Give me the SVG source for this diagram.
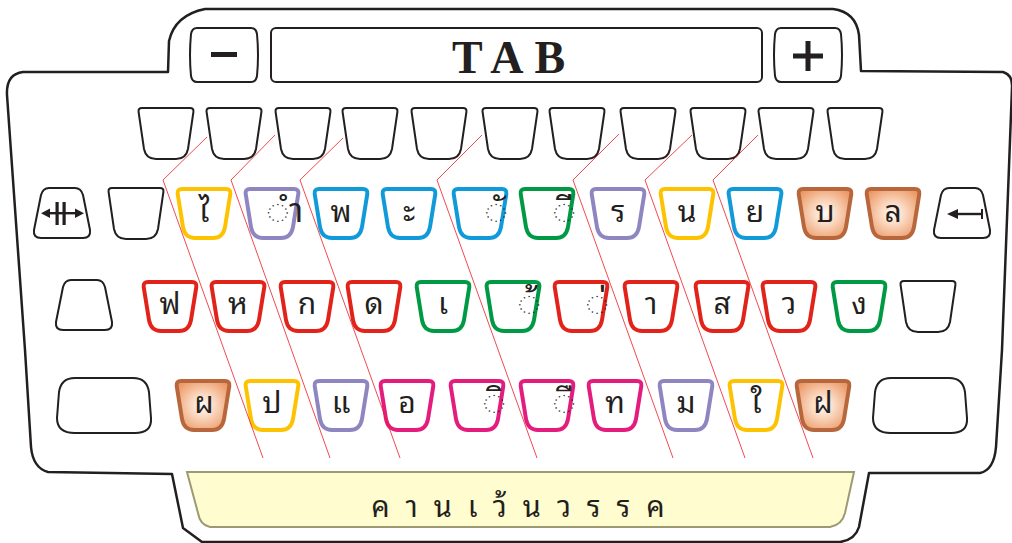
<svg xmlns="http://www.w3.org/2000/svg" xmlns:xlink="http://www.w3.org/1999/xlink" width="1012" height="543" viewBox="0 0 1012 543">
<style>
.bd{fill:#fff;stroke:#231f20;stroke-width:2.5;stroke-linejoin:round}
.kb{fill:#fff;stroke:#231f20;stroke-width:2}
.k{fill:#fff;stroke-width:4}
.y{stroke:#fdc300}.p{stroke:#8e86c1}.b{stroke:#119ad9}.g{stroke:#009944}.r{stroke:#e2231a}.m{stroke:#e31c7e}
.o{stroke:#b8673d;fill:url(#og)}
.t{font-family:"Noto Sans Thai Looped","Noto Serif Thai","Tlwg Typo",Norasi,Kinnari,Loma,Garuda,"Noto Sans Thai","DejaVu Sans",sans-serif;font-size:30px;fill:#231f20;text-anchor:middle}
.dc{font-size:34px}
.tab{font-family:"Liberation Serif",serif;font-size:46px;font-weight:bold;fill:#231f20;text-anchor:middle;letter-spacing:11px}
.rl{fill:none;stroke:#ed1c24;stroke-width:0.8}
.ic{fill:#231f20}
</style>
<defs>
<radialGradient id="og" cx="50%" cy="50%" r="60%">
<stop offset="0" stop-color="#fffaf6"/>
<stop offset="0.35" stop-color="#fbdcc6"/>
<stop offset="1" stop-color="#ec9966"/>
</radialGradient>
<path id="kc" d="M7,2 H51 Q56,2 55.3,7 L50,40 Q48,51 38,51 H20 Q10,51 8,40 L2.7,7 Q2,2 7,2 Z"/>
<path id="kn" d="M5,1 H53 Q57,1 56.4,5 L51,42 Q49,52 39,52 H19 Q9,52 7,42 L1.6,5 Q1,1 5,1 Z"/>
<path id="ki" d="M16,1 H42 Q48,1 50,8 L57,43 Q58,51 50,51 H8 Q0,51 1,43 L8,8 Q10,1 16,1 Z"/>
</defs>

<g id="body">
<path class="bd" d="M23,72 H168 L169,41 Q175,15 205,9 H833 Q856,12 859,35 L861,71 L1003,72 Q1013,75 1012,88 L1002,350 L996,447 Q994,470 980,473 L869,473 L859,527 Q855,540 840,542 H202 L183,528 L172,474 L48,472 Q33,468 31,447 L25,350 L7,95 Q6,74 23,72 Z"/>
</g>

<g id="key-minus">
<path class="kb" d="M197,28 H251 Q256,28 257,34 Q259,55 257,76 Q256,82 251,82 H197 Q192,82 191,76 Q189,55 191,34 Q192,28 197,28 Z"/>
<rect class="ic" x="211" y="52" width="26" height="5"/>
</g>
<g id="key-tab">
<rect class="kb" x="271" y="28" width="491" height="54" rx="5"/>
<text class="tab" x="514" y="73">TAB</text>
</g>
<g id="key-plus">
<path class="kb" d="M781,28 H835 Q840,28 841,34 Q843,55 841,76 Q840,82 835,82 H781 Q776,82 775,76 Q773,55 775,34 Q776,28 781,28 Z"/>
<rect class="ic" x="793" y="53.5" width="30" height="5"/>
<rect class="ic" x="805.5" y="41" width="5" height="30"/>
</g>

<g id="row1">
<g id="k1-1"><use href="#kn" class="kb" x="137" y="107"/></g>
<g id="k1-2"><use href="#kn" class="kb" x="205" y="107"/></g>
<g id="k1-3"><use href="#kn" class="kb" x="274" y="107"/></g>
<g id="k1-4"><use href="#kn" class="kb" x="341" y="107"/></g>
<g id="k1-5"><use href="#kn" class="kb" x="410" y="107"/></g>
<g id="k1-6"><use href="#kn" class="kb" x="481" y="107"/></g>
<g id="k1-7"><use href="#kn" class="kb" x="548" y="107"/></g>
<g id="k1-8"><use href="#kn" class="kb" x="619" y="107"/></g>
<g id="k1-9"><use href="#kn" class="kb" x="689" y="107"/></g>
<g id="k1-10"><use href="#kn" class="kb" x="757" y="107"/></g>
<g id="k1-11"><use href="#kn" class="kb" x="826" y="107"/></g>
</g>

<g id="row2">
<g id="k-tabarrows"><use href="#ki" class="kb" x="33" y="187"/>
<rect class="ic" x="47" y="212" width="31" height="2.4"/>
<path class="ic" d="M41,213.2 L50,208.5 L50,218 Z M84,213.2 L75,208.5 L75,218 Z"/>
<rect class="ic" x="55.5" y="202" width="3.2" height="23"/>
<rect class="ic" x="62.5" y="202" width="3.2" height="23"/>
</g>
<g id="k2-blank"><use href="#kn" class="kb" x="107" y="187"/></g>
<g id="k-sara-ai-malai"><use href="#kc" class="k y" x="175" y="187"/><text class="t" x="204" y="222">ไ</text></g>
<g id="k-sara-am"><use href="#kc" class="k p" x="243" y="187"/><text class="t dc" x="285" y="222">◌ำ</text></g>
<g id="k-pho-phan"><use href="#kc" class="k b" x="312" y="187"/><text class="t" x="341" y="222">พ</text></g>
<g id="k-sara-a"><use href="#kc" class="k b" x="380" y="187"/><text class="t" x="409" y="222">ะ</text></g>
<g id="k-mai-han-akat"><use href="#kc" class="k b" x="451" y="187"/><text class="t dc" x="496" y="222">◌ั</text></g>
<g id="k-sara-ii"><use href="#kc" class="k g" x="518" y="187"/><text class="t dc" x="564" y="222">◌ี</text></g>
<g id="k-ro-rua"><use href="#kc" class="k p" x="589" y="187"/><text class="t" x="618" y="222">ร</text></g>
<g id="k-no-nu"><use href="#kc" class="k y" x="658" y="187"/><text class="t" x="687" y="222">น</text></g>
<g id="k-yo-yak"><use href="#kc" class="k b" x="726" y="187"/><text class="t" x="755" y="222">ย</text></g>
<g id="k-bo-baimai"><use href="#kc" class="k o" x="796" y="187"/><text class="t" x="825" y="222">บ</text></g>
<g id="k-lo-ling"><use href="#kc" class="k o" x="864" y="187"/><text class="t" x="893" y="222">ล</text></g>
<g id="k-backspace"><use href="#ki" class="kb" x="933" y="187"/>
<rect class="ic" x="955" y="212.8" width="27" height="2.4"/>
<path class="ic" d="M947,214 L958,209 L958,219 Z"/>
<rect class="ic" x="981" y="209" width="2" height="10"/>
</g>
</g>

<g id="row3">
<g id="k3-left"><use href="#ki" class="kb" x="55" y="279"/></g>
<g id="k-fo-fan"><use href="#kc" class="k r" x="141" y="280"/><text class="t" x="170" y="314">ฟ</text></g>
<g id="k-ho-hip"><use href="#kc" class="k r" x="209" y="280"/><text class="t" x="238" y="314">ห</text></g>
<g id="k-ko-kai"><use href="#kc" class="k r" x="278" y="280"/><text class="t" x="307" y="314">ก</text></g>
<g id="k-do-dek"><use href="#kc" class="k r" x="345" y="280"/><text class="t" x="374" y="314">ด</text></g>
<g id="k-sara-e"><use href="#kc" class="k g" x="414" y="280"/><text class="t" x="443" y="314">เ</text></g>
<g id="k-mai-tho"><use href="#kc" class="k g" x="484" y="280"/><text class="t dc" x="529" y="314">◌้</text></g>
<g id="k-mai-ek"><use href="#kc" class="k r" x="552" y="280"/><text class="t dc" x="597" y="314">◌่</text></g>
<g id="k-sara-aa"><use href="#kc" class="k r" x="622" y="280"/><text class="t" x="651" y="314">า</text></g>
<g id="k-so-suea"><use href="#kc" class="k r" x="693" y="280"/><text class="t" x="722" y="314">ส</text></g>
<g id="k-wo-waen"><use href="#kc" class="k r" x="760" y="280"/><text class="t" x="789" y="314">ว</text></g>
<g id="k-ngo-ngu"><use href="#kc" class="k g" x="830" y="280"/><text class="t" x="859" y="314">ง</text></g>
<g id="k3-right"><use href="#kn" class="kb" x="899" y="280"/></g>
</g>

<g id="row4">
<g id="k4-left"><path class="kb" d="M75,378 H133 Q147,378 149,392 L151,418 Q152,433 135,433 H75 Q57,433 57,418 L59,392 Q61,378 75,378 Z"/></g>
<g id="k-pho-phueng"><use href="#kc" class="k o" x="174" y="379"/><text class="t" x="204" y="413">ผ</text></g>
<g id="k-po-pla"><use href="#kc" class="k y" x="243" y="379"/><text class="t" x="272" y="413">ป</text></g>
<g id="k-sara-ae"><use href="#kc" class="k p" x="312" y="379"/><text class="t" x="341" y="413">แ</text></g>
<g id="k-o-ang"><use href="#kc" class="k m" x="378" y="379"/><text class="t" x="407" y="413">อ</text></g>
<g id="k-sara-i"><use href="#kc" class="k m" x="448" y="379"/><text class="t dc" x="494" y="413">◌ิ</text></g>
<g id="k-sara-ue"><use href="#kc" class="k m" x="518" y="379"/><text class="t dc" x="564" y="413">◌ื</text></g>
<g id="k-tho-thahan"><use href="#kc" class="k m" x="586" y="379"/><text class="t" x="615" y="413">ท</text></g>
<g id="k-mo-ma"><use href="#kc" class="k p" x="657" y="379"/><text class="t" x="686" y="413">ม</text></g>
<g id="k-sara-ai-muan"><use href="#kc" class="k y" x="727" y="379"/><text class="t" x="756" y="413">ใ</text></g>
<g id="k-fo-fa"><use href="#kc" class="k o" x="794" y="379"/><text class="t" x="823" y="413">ฝ</text></g>
<g id="k4-right"><path class="kb" d="M891,378 H949 Q963,378 965,392 L967,418 Q968,433 951,433 H891 Q873,433 873,418 L875,392 Q877,378 891,378 Z"/></g>
</g>

<g id="key-space">
<path d="M187,472 H854 L845,513 Q842,525 830,527 H210 Q200,525 198,513 Z" fill="#fffccf" stroke="#9c9a73" stroke-width="2"/>
<text class="t" x="526" y="517" style="font-size:29px;letter-spacing:16px">คานเว้นวรรค</text>
</g>

<g id="connectors">
<path class="rl" d="M207,137 L163,180 L263,458"/>
<path class="rl" d="M275,135 L231,180 L330,458"/>
<path class="rl" d="M343,138 L300,180 L400,458"/>
<path class="rl" d="M482,135 L437,180 L537,458"/>
<path class="rl" d="M619,134 L573,180 L673,458"/>
<path class="rl" d="M692,135 L645,180 L745,458"/>
<path class="rl" d="M758,135 L713,180 L813,458"/>
</g>
</svg>
